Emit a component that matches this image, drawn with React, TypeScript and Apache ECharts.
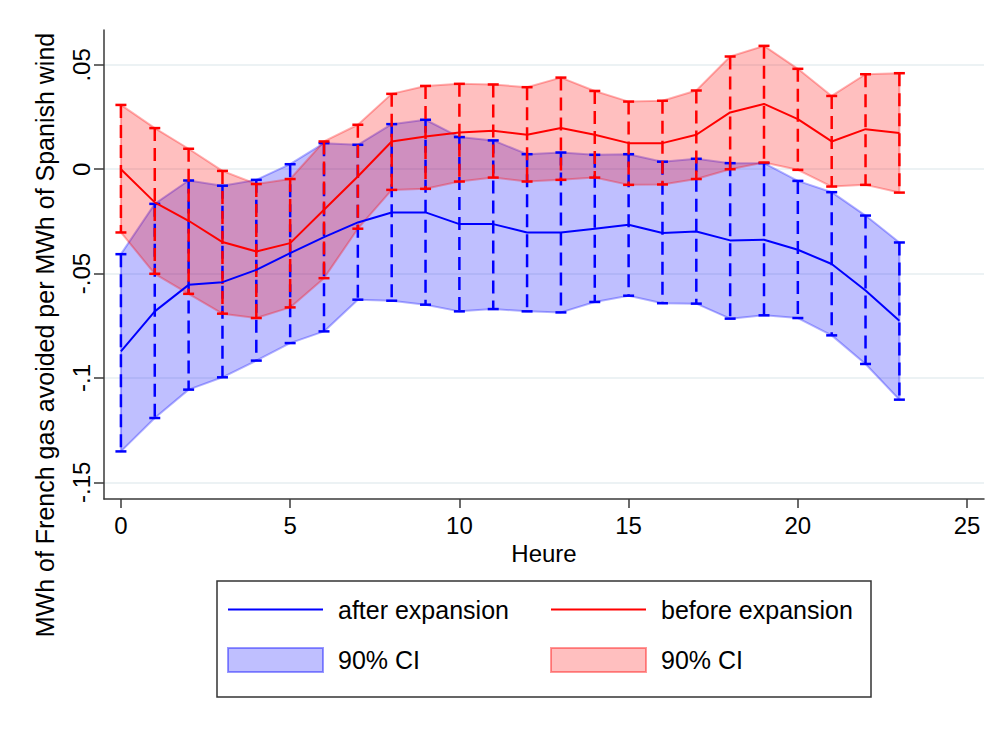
import React, { useEffect, useRef } from 'react';
import * as echarts from 'echarts';

const hours = [0, 1, 2, 3, 4, 5, 6, 7, 8, 9, 10, 11, 12, 13, 14, 15, 16, 17, 18, 19, 20, 21, 22, 23];

const afterMean = [-0.0873, -0.0681, -0.0554, -0.0541, -0.0482, -0.0402, -0.0325, -0.0255, -0.0207, -0.0207, -0.0263, -0.0263, -0.0303, -0.0303, -0.0285, -0.0266, -0.0306, -0.0298, -0.0341, -0.0338, -0.0386, -0.0454, -0.0581, -0.0726];
const afterLo = [-0.1352, -0.1192, -0.1056, -0.0997, -0.0917, -0.0833, -0.0777, -0.0625, -0.0630, -0.0649, -0.0681, -0.0670, -0.0681, -0.0686, -0.0636, -0.0606, -0.0642, -0.0644, -0.0716, -0.0700, -0.0713, -0.0796, -0.0933, -0.1104];
const afterHi = [-0.0407, -0.0166, -0.0054, -0.0079, -0.0051, 0.0024, 0.0125, 0.0117, 0.0216, 0.0237, 0.0154, 0.0138, 0.0072, 0.0080, 0.0069, 0.0072, 0.0036, 0.0050, 0.0029, 0.0029, -0.0056, -0.0110, -0.0222, -0.0351];

const beforeMean = [0.0000, -0.0159, -0.0247, -0.0349, -0.0394, -0.0354, -0.0194, -0.0035, 0.0133, 0.0157, 0.0176, 0.0184, 0.0165, 0.0197, 0.0165, 0.0125, 0.0125, 0.0165, 0.0272, 0.0313, 0.0240, 0.0133, 0.0192, 0.0173];
const beforeLo = [-0.0303, -0.0501, -0.0597, -0.0692, -0.0713, -0.0662, -0.0522, -0.0285, -0.0099, -0.0094, -0.0059, -0.0040, -0.0059, -0.0051, -0.0040, -0.0075, -0.0073, -0.0047, 0.0000, 0.0032, -0.0003, -0.0083, -0.0075, -0.0112];
const beforeHi = [0.0308, 0.0197, 0.0098, -0.0008, -0.0071, -0.0047, 0.0133, 0.0213, 0.0361, 0.0399, 0.0409, 0.0406, 0.0393, 0.0439, 0.0375, 0.0324, 0.0328, 0.0377, 0.0540, 0.0591, 0.0481, 0.0351, 0.0455, 0.0460];

const xTicks = [0, 5, 10, 15, 20, 25];
const yTicks = [-0.15, -0.1, -0.05, 0, 0.05];

const FONT = '"Liberation Sans", Arial, Helvetica, sans-serif';
const BLUE = '#0000ff';
const RED = '#ff0000';
const AXIS = '#3a3a3a';

function fmtY(v: number): string {
  if (v === 0) return '0';
  return String(v).replace('0.', '.');
}

function errorBarSeries(name: string, lo: number[], hi: number[], color: string) {
  return {
    name,
    type: 'custom',
    silent: true,
    data: hours.map((h, i) => [h, lo[i], hi[i]]),
    encode: { x: 0, y: [1, 2] },
    renderItem: (params: any, api: any) => {
      const x = api.value(0);
      const pLo = api.coord([x, api.value(1)]);
      const pHi = api.coord([x, api.value(2)]);
      const cw = 5.5;
      return {
        type: 'group',
        children: [
          {
            type: 'line',
            shape: { x1: pHi[0], y1: pHi[1], x2: pLo[0], y2: pLo[1] },
            style: { stroke: color, lineWidth: 2.5, lineDash: [13, 7] },
          },
          {
            type: 'line',
            shape: { x1: pLo[0] - cw, y1: pLo[1], x2: pLo[0] + cw, y2: pLo[1] },
            style: { stroke: color, lineWidth: 2.5 },
          },
          {
            type: 'line',
            shape: { x1: pHi[0] - cw, y1: pHi[1], x2: pHi[0] + cw, y2: pHi[1] },
            style: { stroke: color, lineWidth: 2.5 },
          },
        ],
      };
    },
  };
}

function bandSeries(name: string, lo: number[], hi: number[], edge: string, fill: string) {
  return {
    name,
    type: 'custom',
    silent: true,
    itemStyle: { color: fill },
    data: hours.map((h, i) => [h, lo[i], hi[i]]),
    encode: { x: 0, y: [1, 2] },
    renderItem: (params: any, api: any) => {
      if (params.dataIndex !== 0) return null;
      const upper = hours.map((h, i) => api.coord([h, hi[i]]));
      const lower = hours.map((h, i) => api.coord([h, lo[i]])).reverse();
      return {
        type: 'polygon',
        shape: { points: upper.concat(lower) },
        style: { fill, stroke: edge, lineWidth: 2, lineJoin: 'round' },
      };
    },
  };
}

export default function App() {
  const ref = useRef<HTMLDivElement>(null);

  useEffect(() => {
    document.body.style.margin = '0';
    if (!ref.current) return;
    const chart = echarts.init(ref.current, null, { renderer: 'svg' });

    const legendText = { fontSize: 25, fontFamily: FONT, color: '#000', padding: [0, 0, 0, 10] };
    const legendFormatter = (n: string) => (n.startsWith('ci_') ? '90% CI' : n);

    const option: any = {
      animation: false,
      backgroundColor: '#fff',
      grid: { left: 104, right: 16, top: 30, bottom: 231, containLabel: false },
      xAxis: {
        type: 'value',
        min: -0.5,
        max: 25.5,
        name: 'Heure',
        nameLocation: 'middle',
        nameGap: 42,
        nameTextStyle: { fontSize: 24, fontFamily: FONT, color: '#000' },
        axisLine: { show: true, onZero: false, lineStyle: { color: AXIS, width: 1.5 } },
        axisTick: { show: true, customValues: xTicks, length: 9, lineStyle: { color: AXIS, width: 1.5 } },
        axisLabel: { customValues: xTicks, fontSize: 24, fontFamily: FONT, color: '#000', margin: 14 },
        splitLine: { show: false },
      },
      yAxis: {
        type: 'value',
        min: -0.158,
        max: 0.0667,
        axisLine: { show: true, onZero: false, lineStyle: { color: AXIS, width: 1.5 } },
        axisTick: { show: true, customValues: yTicks, length: 10, lineStyle: { color: AXIS, width: 1.5 } },
        axisLabel: {
          customValues: yTicks,
          rotate: 90,
          fontSize: 24,
          fontFamily: FONT,
          color: '#000',
          margin: 11,
          formatter: (v: number) => fmtY(v),
        },
        splitLine: { show: true, lineStyle: { color: '#e6eef1', width: 1.5 } },
      },
      legend: [
        {
          orient: 'vertical',
          left: 227,
          top: 597,
          padding: 0,
          itemWidth: 95,
          itemHeight: 24,
          itemGap: 25,
          selectedMode: false,
          formatter: legendFormatter,
          textStyle: legendText,
          data: [
            { name: 'after expansion', itemStyle: { opacity: 0 } },
            {
              name: 'ci_after',
              icon: 'rect',
              itemStyle: { color: 'rgba(0,0,255,0.25)', borderColor: 'rgba(0,0,255,0.4)', borderWidth: 2 },
            },
          ],
        },
        {
          orient: 'vertical',
          left: 550,
          top: 597,
          padding: 0,
          itemWidth: 95,
          itemHeight: 24,
          itemGap: 25,
          selectedMode: false,
          formatter: legendFormatter,
          textStyle: legendText,
          data: [
            { name: 'before expansion', itemStyle: { opacity: 0 } },
            {
              name: 'ci_before',
              icon: 'rect',
              itemStyle: { color: 'rgba(255,0,0,0.25)', borderColor: 'rgba(255,0,0,0.4)', borderWidth: 2 },
            },
          ],
        },
      ],
      graphic: [
        {
          type: 'rect',
          shape: { x: 217, y: 581, width: 654, height: 116 },
          style: { fill: 'none', stroke: '#333', lineWidth: 1.5 },
        },
        {
          type: 'text',
          x: 45,
          y: 335,
          rotation: Math.PI / 2,
          style: {
            text: 'MWh of French gas avoided per MWh of Spanish wind',
            fontSize: 25,
            fontFamily: FONT,
            fill: '#000',
            align: 'center',
            verticalAlign: 'middle',
          },
        },
      ],
      series: [
        {
          name: 'after expansion',
          type: 'line',
          symbol: 'none',
          data: hours.map((h, i) => [h, afterMean[i]]),
          lineStyle: { color: BLUE, width: 2 },
          itemStyle: { color: BLUE },
        },
        {
          name: 'before expansion',
          type: 'line',
          symbol: 'none',
          data: hours.map((h, i) => [h, beforeMean[i]]),
          lineStyle: { color: RED, width: 2 },
          itemStyle: { color: RED },
        },
        bandSeries('ci_after', afterLo, afterHi, 'rgba(0,0,255,0.3)', 'rgba(0,0,255,0.25)'),
        bandSeries('ci_before', beforeLo, beforeHi, 'rgba(255,0,0,0.3)', 'rgba(255,0,0,0.25)'),
        errorBarSeries('after_bars', afterLo, afterHi, BLUE),
        errorBarSeries('before_bars', beforeLo, beforeHi, RED),
      ],
    };

    chart.setOption(option);
    return () => chart.dispose();
  }, []);

  return <div ref={ref} style={{ width: 1000, height: 730 }} />;
}
